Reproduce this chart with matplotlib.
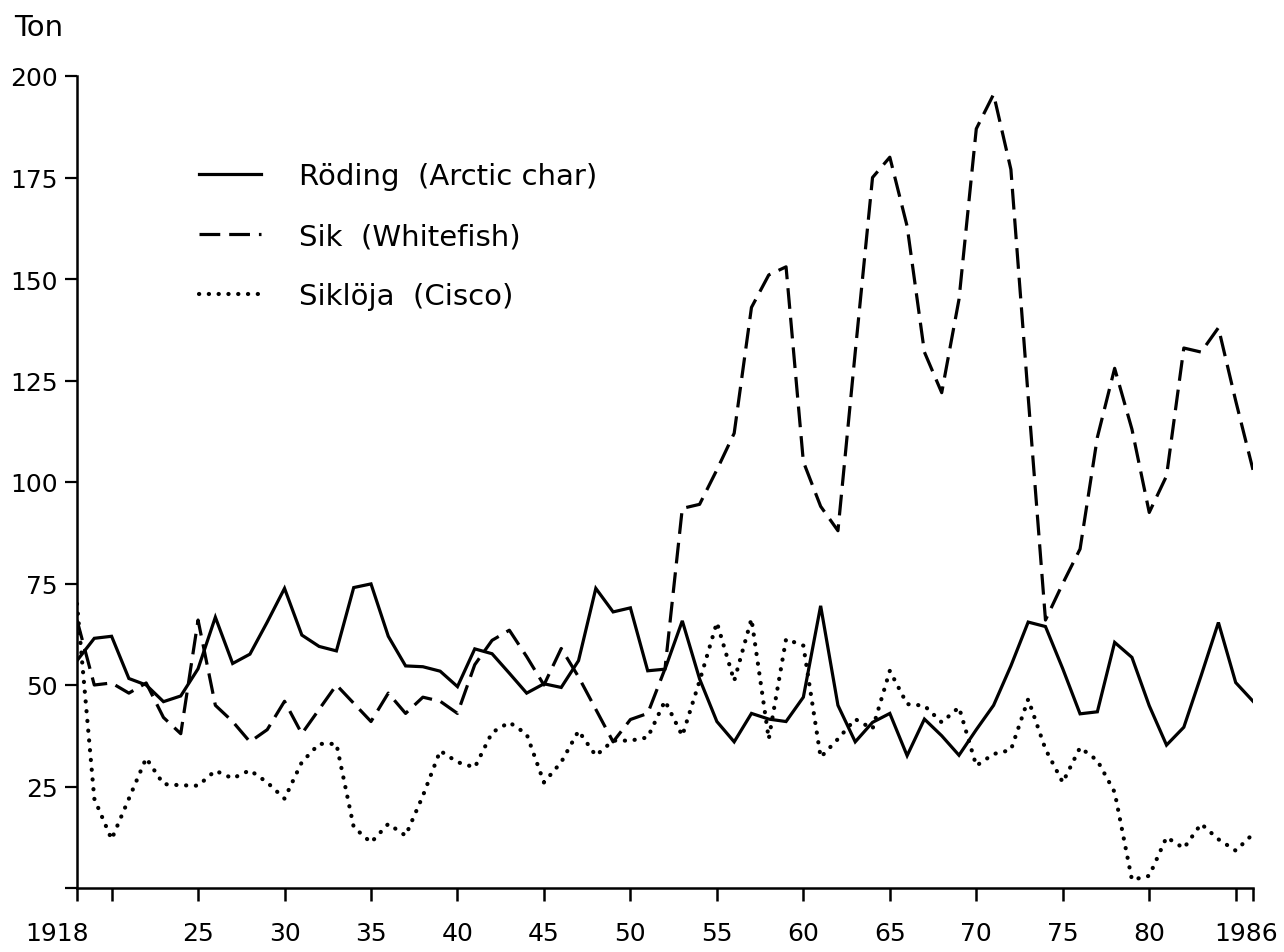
import matplotlib
matplotlib.use("Agg")
import matplotlib.pyplot as plt
from matplotlib.lines import Line2D

years = list(range(1918, 1987))

roding = [56, 61.5, 62, 51.6, 50, 45.9, 47.3, 54, 66.7, 55.3,
          57.6, 65.5, 73.8, 62.3, 59.5, 58.4, 74, 74.9, 62, 54.7,
          54.5, 53.4, 49.6, 58.9, 57.7, 52.9, 48, 50.3, 49.4, 56,
          73.8, 68, 69, 53.5, 53.9, 65.8, 51.5, 41, 36, 43,
          41.6, 41, 47, 69.5, 45, 36, 40.8, 43, 32.6, 41.6,
          37.5, 32.7, 39, 45, 54.7, 65.5, 64.4, 54, 42.9, 43.4,
          60.5, 56.8, 44.9, 35.2, 39.6, 52.3, 65.4, 50.6, 46]

sik = [66, 50, 50.5, 48, 50.5, 42, 38, 66, 45, 41,
       36, 39, 46, 38, 44, 50, 45.5, 41, 48, 43,
       47, 46, 43, 55, 61, 63.5, 57, 50, 59, 52,
       44, 36, 41.5, 43, 54, 93.5, 94.5, 103, 112, 143,
       151, 153, 105, 94, 88, 132, 175, 180, 163, 132,
       122, 145, 187, 195.5, 177, 121, 66, 75, 83.5, 111,
       128, 113, 92.5, 101.5, 133, 132, 138, 120, 103]

sikloja = [70, 22, 12, 22, 32, 25.6, 25.3, 25.2, 28.9, 27,
           29, 26, 22, 31, 35.5, 35.5, 15, 11.2, 15.8, 12.9,
           22.7, 33.8, 31, 29.7, 38.3, 40.8, 37.9, 26, 31, 38.7,
           32.6, 36.3, 36.3, 37.1, 46.1, 37.5, 51, 65.4, 51, 66.3,
           36.7, 61.3, 59.7, 32.2, 36.7, 41.6, 39.2, 53.5, 45.3, 44.9,
           40.8, 44.5, 30.1, 33, 34, 46.5, 34.2, 26, 34.6, 31.4,
           23.6, 2, 3, 12.5, 9.8, 15.8, 12, 9.2, 13.3]

labels = ["Röding  (Arctic char)", "Sik  (Whitefish)", "Siklöja  (Cisco)"]

x_ticks = [1918, 1920, 1925, 1930, 1935, 1940, 1945, 1950, 1955, 1960,
           1965, 1970, 1975, 1980, 1985, 1986]
x_ticklabels = ["", "", "25", "30", "35", "40", "45", "50", "55", "60",
                "65", "70", "75", "80", "", ""]
end_labels = {1918: "1918", 1986: "1986"}
y_ticks = [0, 25, 50, 75, 100, 125, 150, 175, 200]
y_ticklabels = ["", "25", "50", "75", "100", "125", "150", "175", "200"]

plt.rcParams['font.family'] = ['DejaVu Sans']

fig = plt.figure(figsize=(12.84, 9.53), dpi=100)
ax = fig.add_axes([77/1284, 1 - 889/953, (1253 - 77)/1284, (889 - 77)/953])

lw = 2.3
solid_style = dict(color="black", lw=lw, linestyle="-", solid_joinstyle="miter")
dash_style = dict(color="black", lw=lw, linestyle=(0, (6.5, 2.8)))
dot_style = dict(color="black", lw=3.0, linestyle=(0, (0.05, 2.3)),
                 dash_capstyle="round")

ax.plot(years, roding, **solid_style)
ax.plot(years, sik, **dash_style)
ax.plot(years, sikloja, **dot_style)

ax.set_xlim(1918, 1986)
ax.set_ylim(0, 200)

for s in ["top", "right"]:
    ax.spines[s].set_visible(False)
for s in ["left", "bottom"]:
    ax.spines[s].set_linewidth(1.8)

tick_len, x_pad = 9, 15
ax.set_xticks(x_ticks)
ax.set_xticklabels(x_ticklabels)
ax.set_yticks(y_ticks)
ax.set_yticklabels(y_ticklabels)
ax.tick_params(axis="x", direction="out", length=tick_len, width=1.8,
               pad=x_pad, labelsize=18)
ax.tick_params(axis="y", direction="out", length=9, width=1.6, pad=5,
               labelsize=18)

# end-year labels, set slightly left of their ticks as in the original
shifts = {1918: -14, 1986: -5}
for yr, txt in end_labels.items():
    ax.annotate(txt, xy=(yr, 0), xycoords=("data", "axes fraction"),
                xytext=(shifts[yr], -(tick_len + x_pad)),
                textcoords="offset points", ha="center", va="top",
                fontsize=18, annotation_clip=False)

fig.text(14/1284, 1 - 28/953, "Ton", fontsize=21, va="center", ha="left")

handles = [Line2D([], [], **solid_style),
           Line2D([], [], **dash_style),
           Line2D([], [], **dot_style)]
ax.legend(handles, labels, loc="upper left",
          bbox_to_anchor=(199/1284, 1 - 163/953),
          bbox_transform=fig.transFigure, frameon=False, fontsize=21,
          handlelength=2.12, handletextpad=1.3, labelspacing=1.1,
          borderpad=0, borderaxespad=0)

fig.savefig("out.png", dpi=100)
